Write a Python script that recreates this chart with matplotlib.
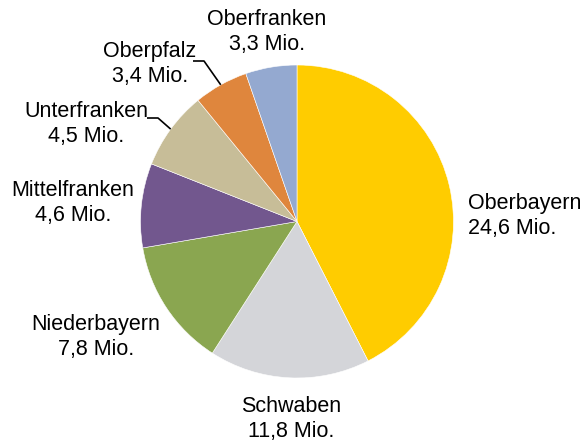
import numpy as np
import matplotlib.pyplot as plt

plt.rcParams['font.family'] = ['Liberation Sans', 'DejaVu Sans']

# Bevölkerung nach Regierungsbezirk (Mio.)
bezirke = ['Oberbayern', 'Schwaben', 'Niederbayern', 'Mittelfranken',
           'Unterfranken', 'Oberpfalz', 'Oberfranken']
werte_text = ['24,6', '11,8', '7,8', '4,6', '4,5', '3,4', '3,3']
# Segmentgrößen wie in der Vorlage gezeichnet (Prozent des Kreises)
anteile = [42.5, 16.6, 13.2, 8.7, 8.1, 5.6, 5.3]
farben = ['#FFCC00', '#D4D5D9', '#8AA650', '#72578E', '#C7BD98', '#DF863D', '#94A9D0']

fig = plt.figure(figsize=(5.84, 4.41), dpi=100)
ax = fig.add_axes([0, 0, 1, 1])

cx, cy, r = 297, 441 - 221.5, 156.5
wedges, _ = ax.pie(anteile, colors=farben, startangle=90, counterclock=False,
                   center=(cx, cy), radius=r, frame=True,
                   wedgeprops=dict(edgecolor='white', linewidth=0.4))
ax.set_xlim(0, 584)
ax.set_ylim(0, 441)
ax.set_aspect('equal')
ax.axis('off')

# Beschriftungspositionen (Mitte des Textblocks, Pixel von oben)
label_pos = {
    'Oberbayern': (468, 216, 'left'),
    'Schwaben': (291, 419, 'center'),
    'Niederbayern': (96, 337, 'center'),
    'Mittelfranken': (73, 203, 'center'),
    'Unterfranken': (86, 124, 'center'),
    'Oberpfalz': (150, 64, 'center'),
    'Oberfranken': (267, 32, 'center'),
}
for name, w in zip(bezirke, werte_text):
    x, y, ha = label_pos[name]
    ax.text(x, 441 - y, f'{name}\n{w} Mio.', ha=ha, va='center',
            fontsize=15.5, color='black', linespacing=1.2)

# Führungslinien zu kleinen Segmenten
leader = {'Oberpfalz': (193, 204, 61), 'Unterfranken': (147, 158, 118)}
for name, (x0, x1, y0) in leader.items():
    wdg = wedges[bezirke.index(name)]
    mid = np.deg2rad((wdg.theta1 + wdg.theta2) / 2)
    ex, ey = cx + r * np.cos(mid), cy + r * np.sin(mid)
    ax.plot([x0, x1, ex], [441 - y0, 441 - y0, ey], color='black', lw=1.2,
            solid_capstyle='butt')

fig.savefig('out.png', dpi=100)
